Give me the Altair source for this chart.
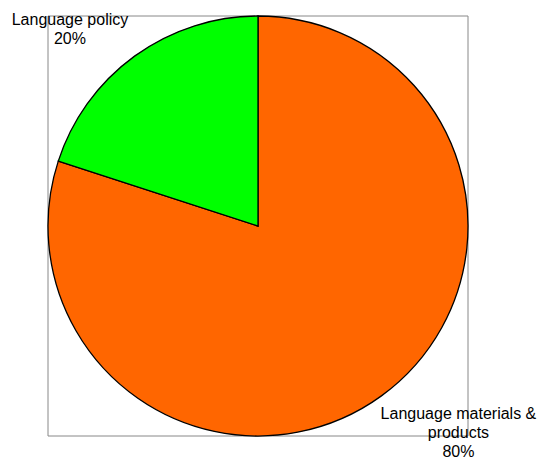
import altair as alt
import pandas as pd
import math

categories = ["Language materials &\nproducts", "Language policy"]
values = [80, 20]
percent_labels = ["80%", "20%"]
colors = ["#FF6600", "#00FF00"]

df = pd.DataFrame({
    "category": categories,
    "value": values,
    "label": [c + "\n" + p for c, p in zip(categories, percent_labels)],
    "idx": list(range(len(categories))),
})
total = sum(values)

frame = alt.Chart(pd.DataFrame({"a": [0]})).mark_rect(
    fill="white", stroke="#888888", strokeWidth=1
).encode(x=alt.value(0), x2=alt.value(420), y=alt.value(0), y2=alt.value(420))

arcs = alt.Chart(df).mark_arc(outerRadius=210, stroke="black", strokeWidth=1.3).encode(
    theta=alt.Theta("value:Q", stack=True),
    order=alt.Order("idx:Q"),
    color=alt.Color("category:N", scale=alt.Scale(domain=categories, range=colors), legend=None),
)

theta_scale = alt.Scale(domain=[0, total], range=[0, 2 * math.pi])
text_base = alt.Chart(df).transform_window(
    cum="sum(value)", sort=[alt.SortField("idx")], frame=[None, 0]
).transform_calculate(mid="datum.cum - datum.value / 2")

font = "Liberation Sans"
common = dict(radius=210, fontSize=16, lineHeight=19, font=font, align="center",
              baseline="alphabetic", lineBreak="\n", color="black")

txt_orange = text_base.transform_filter(alt.datum.idx == 0).mark_text(
    dx=77, dy=23, **common
).encode(theta=alt.Theta("mid:Q", scale=theta_scale, stack=None), text="label:N")

txt_green = text_base.transform_filter(alt.datum.idx == 1).mark_text(
    dx=-64.6, dy=-31, **common
).encode(theta=alt.Theta("mid:Q", scale=theta_scale, stack=None), text="label:N")

chart = alt.layer(frame, arcs, txt_orange, txt_green).resolve_scale(theta="independent").properties(
    width=420, height=420,
    autosize="none",
    padding={"left": 40, "top": 8, "right": 70, "bottom": 40},
).configure_view(stroke=None)

chart.save("out.html", embed_options={"renderer": "svg", "actions": False})
